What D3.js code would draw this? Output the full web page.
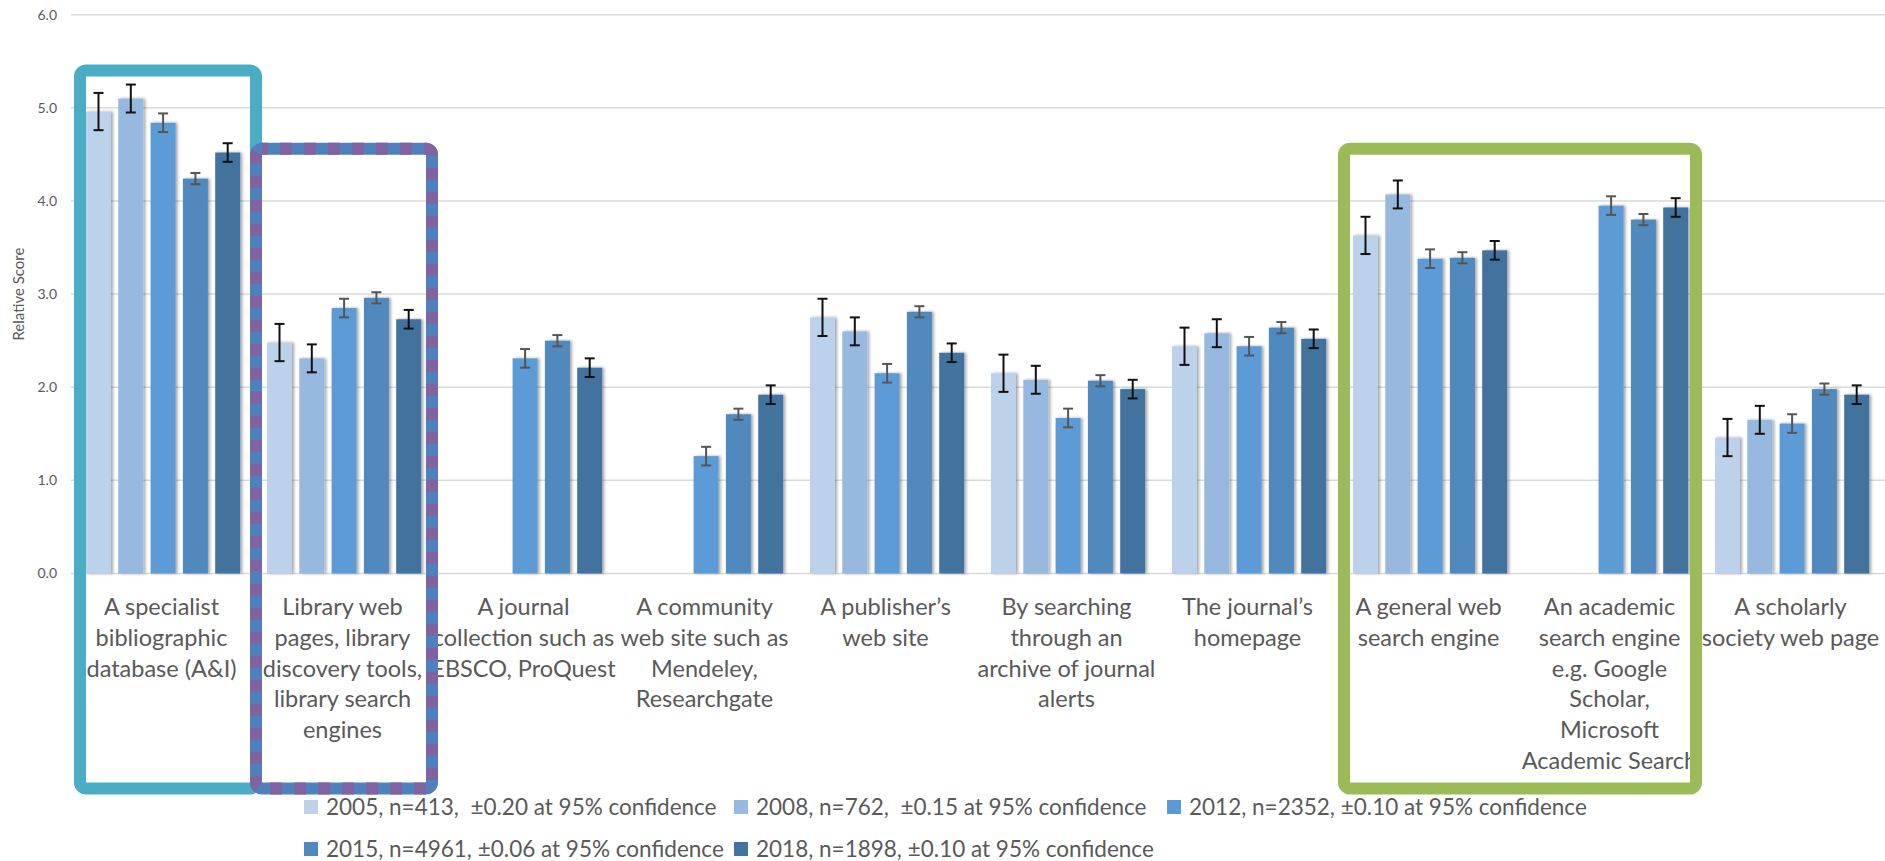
<!DOCTYPE html>
<html>
<head>
<meta charset="utf-8">
<script src="https://cdn.jsdelivr.net/npm/d3@7"></script>
<style>
  body { margin: 0; background: #fff; }
  text { font-family: Lato, "Open Sans", sans-serif; fill: #595959; }
</style>
</head>
<body>
<svg id="chart"></svg>
<script>
const width = 1885;
const height = 861;

// categories, one entry of wrapped lines per group
const categories = [
    ["A specialist", "bibliographic", "database (A&I)"],
    ["Library web", "pages, library", "discovery tools,", "library search", "engines"],
    ["A journal", "collection such as", "EBSCO, ProQuest"],
    ["A community", "web site such as", "Mendeley,", "Researchgate"],
    ["A publisher\u2019s", "web site"],
    ["By searching", "through an", "archive of journal", "alerts"],
    ["The journal\u2019s", "homepage"],
    ["A general web", "search engine"],
    ["An academic", "search engine", "e.g. Google", "Scholar,", "Microsoft", "Academic Search"],
    ["A scholarly", "society web page"]
];

const series = ["2005", "2008", "2012", "2015", "2018"];
const seriesLabels = [
    "2005, n=413,  \u00b10.20 at 95% confidence",
    "2008, n=762,  \u00b10.15 at 95% confidence",
    "2012, n=2352, \u00b10.10 at 95% confidence",
    "2015, n=4961, \u00b10.06 at 95% confidence",
    "2018, n=1898, \u00b10.10 at 95% confidence"
];
const errors = [0.20, 0.15, 0.10, 0.06, 0.10];

// null = not asked that year
const v2005 = [4.96, 2.48, null, null, 2.75, 2.15, 2.44, 3.63, null, 1.46];
const v2008 = [5.10, 2.31, null, null, 2.60, 2.08, 2.58, 4.07, null, 1.65];
const v2012 = [4.84, 2.85, 2.31, 1.26, 2.15, 1.67, 2.44, 3.38, 3.95, 1.61];
const v2015 = [4.24, 2.96, 2.50, 1.71, 2.81, 2.07, 2.64, 3.39, 3.80, 1.98];
const v2018 = [4.52, 2.73, 2.21, 1.92, 2.37, 1.98, 2.52, 3.47, 3.93, 1.92];
const values = [v2005, v2008, v2012, v2015, v2018];

const yTicks = [0, 1, 2, 3, 4, 5, 6];

const colors = ["#bcd1ea", "#97b8df", "#5b9bd5", "#4f89bd", "#43739f"];
const errColors = ["#111", "#111", "#555", "#555", "#111"];

const svg = d3.select("#chart").attr("width", width).attr("height", height);

const defs = svg.append("defs");
const f = defs.append("filter").attr("id", "shadow")
    .attr("x", "-20%").attr("y", "-5%").attr("width", "150%").attr("height", "110%");
f.append("feDropShadow").attr("dx", 2).attr("dy", 0).attr("stdDeviation", 1.5)
    .attr("flood-color", "#000").attr("flood-opacity", 0.35);

const x = d3.scaleBand().domain(d3.range(categories.length)).range([71, 1881]);
const xs = d3.scaleBand().domain(d3.range(series.length))
    .range([15, 169.2]).paddingInner(0.226).paddingOuter(0);
const y = d3.scaleLinear().domain([0, 6]).range([573.5, 14.7]);

// grid
const grid = svg.append("g");
grid.selectAll("line").data(yTicks).enter().append("line")
    .attr("x1", 71).attr("x2", 1885)
    .attr("y1", d => y(d)).attr("y2", d => y(d))
    .attr("stroke", "#d9d9d9").attr("stroke-width", 1.5);

const yAxis = svg.append("g").attr("transform", "translate(71,0)")
    .call(d3.axisLeft(y).tickValues(yTicks).tickFormat(d3.format(".1f")).tickSize(0).tickPadding(14));
yAxis.select(".domain").remove();
yAxis.selectAll("text").style("font-size", "14px").style("fill", "#595959")
    .style("font-family", "Lato, sans-serif");

svg.append("text")
    .attr("transform", "translate(24," + y(3) + ") rotate(-90)")
    .attr("text-anchor", "middle")
    .style("font-size", "15px")
    .text("Relative Score");

// bars
const flat = [];
values.forEach((vals, s) => vals.forEach((v, c) => {
    if (v != null) flat.push({ s: s, c: c, v: v });
}));

const bars = svg.append("g");
bars.selectAll("rect").data(flat).enter().append("rect")
    .attr("x", d => x(d.c) + xs(d.s))
    .attr("width", xs.bandwidth())
    .attr("y", d => y(d.v))
    .attr("height", d => y(0) - y(d.v))
    .attr("fill", d => colors[d.s])
    .attr("filter", "url(#shadow)");

// error bars
const eb = svg.append("g").selectAll("g").data(flat).enter().append("g")
    .attr("stroke", d => errColors[d.s]).attr("stroke-width", 2);
eb.append("line")
    .attr("x1", d => x(d.c) + xs(d.s) + xs.bandwidth() / 2)
    .attr("x2", d => x(d.c) + xs(d.s) + xs.bandwidth() / 2)
    .attr("y1", d => y(d.v + errors[d.s]))
    .attr("y2", d => y(d.v - errors[d.s]));
[1, -1].forEach(sign => {
    eb.append("line")
        .attr("x1", d => x(d.c) + xs(d.s) + xs.bandwidth() / 2 - 5)
        .attr("x2", d => x(d.c) + xs(d.s) + xs.bandwidth() / 2 + 5)
        .attr("y1", d => y(d.v + sign * errors[d.s]))
        .attr("y2", d => y(d.v + sign * errors[d.s]));
});

// category labels
const labels = svg.append("g").selectAll("text").data(categories).enter().append("text")
    .attr("text-anchor", "middle")
    .style("font-size", "23.5px");
labels.selectAll("tspan").data((d, i) => d.map(t => ({ t: t, i: i }))).enter().append("tspan")
    .attr("x", d => x(d.i) + x.bandwidth() / 2)
    .attr("y", (d, j) => 615 + j * 30.8)
    .text(d => d.t);

// highlight boxes
const bw = x.bandwidth();
const boxBottom = 788.5;
function box(x0, x1, top, r) {
    const p = d3.path();
    p.moveTo(x0 + r, top);
    p.lineTo(x1 - r, top); p.arcTo(x1, top, x1, top + r, r);
    p.lineTo(x1, boxBottom - r); p.arcTo(x1, boxBottom, x1 - r, boxBottom, r);
    p.lineTo(x0 + r, boxBottom); p.arcTo(x0, boxBottom, x0, boxBottom - r, r);
    p.lineTo(x0, top + r); p.arcTo(x0, top, x0 + r, top, r);
    p.closePath();
    return p.toString();
}
const ann = svg.append("g").attr("fill", "none").attr("stroke-width", 12);
ann.append("path").attr("d", box(x(0) + 9, x(0) + bw + 4, y(5.4), 6)).attr("stroke", "#4bacc6");
ann.append("path").attr("d", box(x(1) + 4, x(1) + bw - 1, y(4.56), 6)).attr("stroke", "#4f81bd");
ann.append("path").attr("d", box(x(1) + 4, x(1) + bw - 1, y(4.56), 6)).attr("stroke", "#8064a2")
    .attr("stroke-dasharray", "12,12").attr("stroke-dashoffset", 6);
ann.append("path").attr("d", box(x(7) + 6, x(8) + bw - 4, y(4.56), 6)).attr("stroke", "#9bbb59");

// legend
const legendCols = [304, 734, 1167];
const legend = svg.append("g").selectAll("g").data(seriesLabels).enter().append("g")
    .attr("transform", (d, i) => "translate(" + legendCols[i % 3] + "," + (807 + Math.floor(i / 3) * 42) + ")");
legend.append("rect").attr("x", 0).attr("y", -7).attr("width", 14).attr("height", 14)
    .attr("fill", (d, i) => colors[i]);
legend.append("text").attr("x", 22).attr("dy", "0.35em")
    .style("font-size", "22.5px")
    .style("white-space", "pre")
    .attr("xml:space", "preserve")
    .text(d => d);
</script>
</body>
</html>
